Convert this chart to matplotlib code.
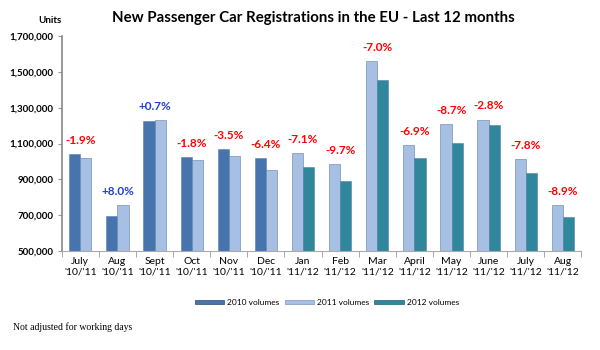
import numpy as np
import matplotlib
matplotlib.use("Agg")
import matplotlib.pyplot as plt
from matplotlib.patches import Patch

months = ["July", "Aug", "Sept", "Oct", "Nov", "Dec", "Jan", "Feb",
          "Mar", "April", "May", "June", "July", "Aug"]
periods = ["'10/'11"] * 6 + ["'11/'12"] * 8

# volumes; None where the year is not shown
vol_2010 = [1040000, 697000, 1225000, 1026000, 1067000, 1017000] + [None] * 8
vol_2011 = [1018000, 755000, 1233000, 1008000, 1031000, 952000,
            1045000, 984000, 1560000, 1093000, 1210000, 1234000, 1013000, 755000]
vol_2012 = [None] * 6 + [970000, 890000, 1452000, 1018000, 1105000, 1201000, 936000, 687000]
changes = ["-1.9%", "+8.0%", "+0.7%", "-1.8%", "-3.5%", "-6.4%", "-7.1%",
           "-9.7%", "-7.0%", "-6.9%", "-8.7%", "-2.8%", "-7.8%", "-8.9%"]

c2010 = "#4774ad"
c2011 = "#a6bfe2"
c2012 = "#2f879b"

plt.rcParams['font.family'] = ['Lato', 'DejaVu Sans']

fig = plt.figure(figsize=(6, 3.5), dpi=100)
ax = fig.add_axes([0.103, 0.283, 0.866, 0.614])

x = np.arange(len(months))
w = 0.3
for i in x:
    if vol_2010[i] is not None:
        left, right = vol_2010[i], vol_2011[i]
        cl, cr = c2010, c2011
    else:
        left, right = vol_2011[i], vol_2012[i]
        cl, cr = c2011, c2012
    ax.bar(i - w / 2, left, width=w, color=cl, edgecolor="#5a7fa8", linewidth=0.4, zorder=2)
    ax.bar(i + w / 2, right, width=w, color=cr, edgecolor="#5a7fa8", linewidth=0.4, zorder=2)
    top = max(left, right)
    col = "#1f3fd0" if changes[i].startswith("+") else "#ff0000"
    ax.text(i, top + 45000, changes[i], ha="center", va="bottom",
            color=col, fontsize=8.5, fontweight="bold")

ax.set_xlim(-0.5, len(months) - 0.5)
ax.set_ylim(500000, 1700000)
ax.set_yticks(np.arange(500000, 1700001, 200000))
ax.set_yticklabels([f"{v:,}" for v in range(500000, 1700001, 200000)],
                   fontsize=7, fontweight="bold")
ax.set_xticks(x)
ax.set_xticklabels([f"{m}\n{p}" for m, p in zip(months, periods)], fontsize=7.5,
                   linespacing=1.35)
ax.set_xticks(np.arange(-0.5, len(months)), minor=True)
ax.tick_params(axis="x", which="major", length=0, pad=4)
ax.tick_params(axis="x", which="minor", length=4, color="#999999")
ax.tick_params(axis="y", length=3, color="#999999", pad=3)

for s in ["top", "right"]:
    ax.spines[s].set_visible(False)
ax.spines["left"].set_color("#888888")
ax.spines["left"].set_linewidth(1.2)
ax.spines["bottom"].set_color("#aaaaaa")

fig.text(0.523, 0.948, "New Passenger Car Registrations in the EU - Last 12 months",
         ha="center", va="center", fontsize=10.8, fontweight="bold")
fig.text(0.083, 0.942, "Units", ha="center", va="center", fontsize=7, fontweight="bold")

handles = [Patch(facecolor=c2010, edgecolor="#2c4d78", linewidth=0.5),
           Patch(facecolor=c2011, edgecolor="#7a96bd", linewidth=0.5),
           Patch(facecolor=c2012, edgecolor="#1e6273", linewidth=0.5)]
fig.legend(handles, ["2010 volumes", "2011 volumes", "2012 volumes"],
           loc="center", bbox_to_anchor=(0.545, 0.135), ncol=3, frameon=False,
           fontsize=6, handlelength=3.5, handleheight=0.35, columnspacing=0.6,
           handletextpad=0.4)

fig.text(0.022, 0.066, "Not adjusted for working days", ha="left", va="center",
         fontsize=7, family="Liberation Serif")

fig.savefig("out.png", dpi=100)
